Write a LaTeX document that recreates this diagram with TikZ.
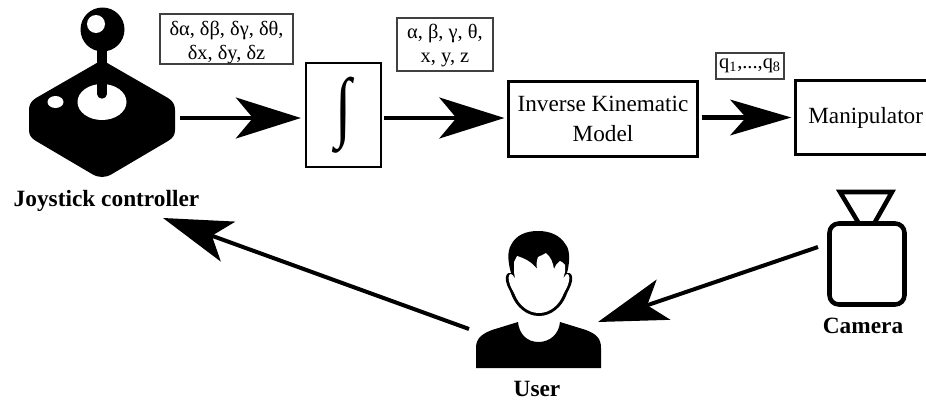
\documentclass[tikz,border=0pt]{standalone}
\usepackage{graphicx}
\usepackage{fontspec}
\setmainfont{Liberation Serif}
\usetikzlibrary{arrows.meta}
\begin{document}
\begin{tikzpicture}[
  x=0.75pt, y=-0.75pt,
  blockbig/.style={draw, line width=2.2pt, align=center, inner sep=0pt, font=\fontsize{17.4}{22}\selectfont},
  blockthin/.style={draw, line width=1.7pt, inner sep=0pt},
  tag/.style={draw=black!75, line width=0.8pt, align=center, inner sep=0pt, font=\fontsize{15.3}{18}\selectfont},
  caption/.style={anchor=base, inner sep=0pt, font=\fontsize{17.5}{21}\selectfont\bfseries},
  edgebig/.style={-{Stealth[length=49pt, width=31pt, inset=13pt, line width=0pt]}, line width=3.3pt},
  edgesmall/.style={-{Stealth[length=46pt, width=27pt, inset=12pt, line width=0pt]}, line width=3.3pt},
  edgeslant/.style={-{Stealth[length=52pt, width=32pt, inset=13pt, line width=0pt]}, line width=3pt}
]
\useasboundingbox (0,0) rectangle (926,400);

% blocks
\node[blockthin, minimum width=56.25pt, minimum height=78pt] (integ) at (343.5,115)
  {\scalebox{0.85}[1.12]{\fontsize{52}{52}\selectfont\bfseries ∫}};
\node[blockbig, minimum width=141.75pt, minimum height=56.25pt] (ik) at (603,119) {Inverse Kinematic\\Model};
\node[blockbig, minimum width=105.4pt, minimum height=56pt] (manip) at (865.7,117.5) {Manipulator};

% signal tags
\node[tag, minimum width=99.75pt, minimum height=37.5pt] (deltas) at (226.5,39)
  {\rule{0pt}{16pt}δα, δβ, δγ, δθ,\\δx, δy, δz};
\node[tag, minimum width=72pt, minimum height=39.75pt] (pose) at (445,44.5)
  {\rule{0pt}{13pt}α, β, γ, θ,\\x, y, z};
\node[tag, minimum width=51pt, minimum height=19.5pt] (joints) at (750,66)
  {q\textsubscript{1},...,q\textsubscript{8}};

% joystick
\fill (102,60) -- (36,98) .. controls (31,101) and (29,105) .. (29,110) -- (29,130)
  .. controls (29,135) and (31,138) .. (36,141) -- (92,174)
  .. controls (99,178) and (105,178) .. (112,174) -- (168,141)
  .. controls (173,138) and (175,135) .. (175,130) -- (175,110)
  .. controls (175,105) and (173,101) .. (168,98) -- cycle;
\fill[white] (102,102) ellipse [x radius=24.5, y radius=18];
\fill[white] (55.5,102) ellipse [x radius=8, y radius=6];
\draw[line width=7pt, line cap=round] (102,45) -- (102,94);
\fill (102.5,29.5) circle [radius=22];
\fill[white] (96,24) circle [radius=9];
\node[caption] (joylabel) at (106.5,206) {Joystick controller};

% user
\fill (476,368) -- (476,348) .. controls (476,338) and (482,334) .. (492,330) -- (518,322)
  .. controls (519,334) and (527,342) .. (538.5,342) .. controls (550,342) and (559,334) .. (560,322)
  -- (586,330) .. controls (596,334) and (601,338) .. (601,348) -- (601,368) -- cycle;
\fill (511,273) .. controls (507,272) and (505,276) .. (506,281)
  .. controls (507,287) and (510,290) .. (512,296)
  .. controls (516,306) and (526,316) .. (539,316)
  .. controls (552,316) and (562,306) .. (566,296)
  .. controls (568,290) and (571,287) .. (572,281)
  .. controls (573,276) and (571,272) .. (567,273)
  .. controls (570,262) and (570,250) .. (566,245)
  .. controls (560,235) and (550,231) .. (538,231)
  .. controls (526,231) and (516,235) .. (511,245)
  .. controls (507,252) and (508,262) .. (511,273) -- cycle;
\fill[white] (514,262) -- (517,256) .. controls (524,258) and (532,262) .. (537,269)
  .. controls (536,264) and (537,260) .. (538,257) .. controls (541,256) and (544,254) .. (546,253)
  .. controls (551,257) and (553,263) .. (554,269) .. controls (555,266) and (557,263) .. (560,261)
  .. controls (562,262) and (564,263) .. (565,265) -- (565,272) -- (563,279)
  .. controls (565,276) and (566,274) .. (567,274) .. controls (569,274) and (570,277) .. (569,281)
  .. controls (568,287) and (565,290) .. (563,295)
  .. controls (559,305) and (550,313) .. (539,313)
  .. controls (528,313) and (519,305) .. (515,295)
  .. controls (513,290) and (510,287) .. (509,281)
  .. controls (508,277) and (509,274) .. (511,274)
  .. controls (512,274) and (514,276) .. (515,279) -- (514,272) -- cycle;
\node[caption] (userlabel) at (537,396) {User};

% camera
\node[draw, line width=3.4pt, rounded corners=7pt, minimum width=56.25pt, minimum height=60.75pt] (cambody) at (867,264) {};
\draw[line width=3.4pt, line join=miter] (858,222) -- (840,192) -- (892,192) -- (875,222);
\node[caption] (camlabel) at (863,333) {Camera};

% connector ends on the drawn icons
\coordinate (joyout) at (180,118);
\coordinate (joyin) at (163,218);
\coordinate (userout) at (469,329);
\coordinate (userin) at (598,322);
\coordinate (camout) at (818,247);

% connectors
\draw[edgebig, shorten >=3pt] (joyout) -- (joyout -| integ.west);
\draw[edgebig, shorten >=2pt, shorten <=1.5pt] (integ.east |- joyout) -- (ik.west |- joyout);
\draw[edgesmall, shorten >=2pt, shorten <=2pt] (ik.east |- manip.west) -- (manip.west);
\draw[edgeslant] (camout) -- (userin);
\draw[edgeslant] (userout) -- (joyin);
\end{tikzpicture}
\end{document}
